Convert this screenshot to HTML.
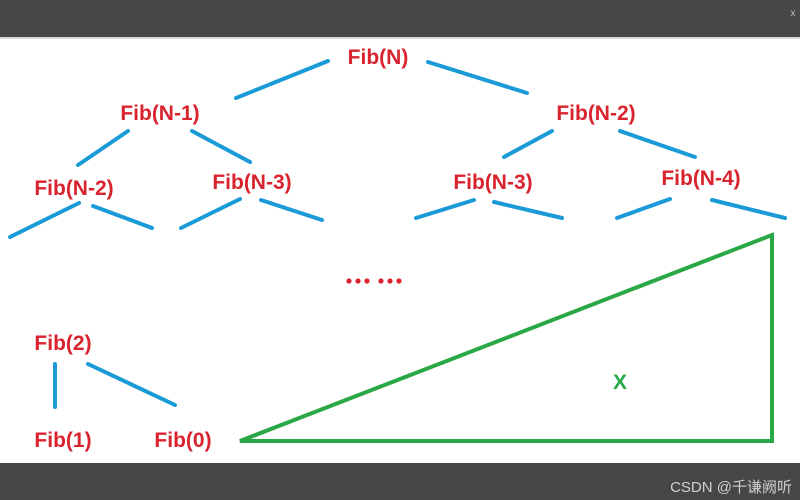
<!DOCTYPE html>
<html><head><meta charset="utf-8"><style>
html,body{margin:0;padding:0;background:#fff;}
svg{display:block;}
.t{font-family:"Liberation Sans",sans-serif;font-weight:bold;font-size:21px;fill:#d9232e;text-anchor:middle;}
</style></head><body>
<svg width="800" height="500" viewBox="0 0 800 500" xmlns="http://www.w3.org/2000/svg">
<rect x="0" y="0" width="800" height="37" fill="#474747"/>
<rect x="0" y="37" width="800" height="2" fill="#d8d8d8"/>
<text x="793" y="16" font-family="Liberation Sans,sans-serif" font-size="10" fill="#bbbbbb" text-anchor="middle">x</text>
<rect x="0" y="463" width="800" height="37" fill="#474747"/>
<text x="792" y="492" font-family="Liberation Sans,'Noto Sans CJK SC',sans-serif" font-size="15" fill="#d0d0d0" text-anchor="end">CSDN @千谦阙听</text>

<g stroke="#1a9ad6" stroke-width="4" stroke-linecap="round" fill="none">
<line x1="328" y1="61" x2="236" y2="98"/>
<line x1="428" y1="62" x2="527" y2="93"/>
<line x1="128" y1="131" x2="78" y2="165"/>
<line x1="192" y1="131" x2="250" y2="162"/>
<line x1="552" y1="131" x2="504" y2="157"/>
<line x1="620" y1="131" x2="695" y2="157"/>
<line x1="79" y1="203" x2="10" y2="237"/>
<line x1="93" y1="206" x2="152" y2="228"/>
<line x1="240" y1="199" x2="181" y2="228"/>
<line x1="261" y1="200" x2="322" y2="220"/>
<line x1="474" y1="200" x2="416" y2="218"/>
<line x1="494" y1="202" x2="562" y2="218"/>
<line x1="670" y1="199" x2="617" y2="218"/>
<line x1="712" y1="200" x2="785" y2="218"/>
<line x1="55" y1="364" x2="55" y2="407"/>
<line x1="88" y1="364" x2="175" y2="405"/>
</g>
<text class="t" x="378" y="64">Fib(N)</text>
<text class="t" x="160" y="120">Fib(N-1)</text>
<text class="t" x="596" y="120">Fib(N-2)</text>
<text class="t" x="74" y="195">Fib(N-2)</text>
<text class="t" x="252" y="189">Fib(N-3)</text>
<text class="t" x="493" y="189">Fib(N-3)</text>
<text class="t" x="701" y="185">Fib(N-4)</text>
<g fill="#d9232e">
<circle cx="349" cy="281" r="2.6"/><circle cx="358" cy="281" r="2.6"/><circle cx="367" cy="281" r="2.6"/>
<circle cx="381" cy="281" r="2.6"/><circle cx="390" cy="281" r="2.6"/><circle cx="399" cy="281" r="2.6"/>
</g>
<text class="t" x="63" y="350">Fib(2)</text>
<text class="t" x="63" y="447">Fib(1)</text>
<text class="t" x="183" y="447">Fib(0)</text>

<polygon points="240,441 772,235 772,441" fill="none" stroke="#2aa845" stroke-width="4"/>
<text class="t" x="620" y="389" style="fill:#2aa845">X</text>
</svg>
</body></html>
